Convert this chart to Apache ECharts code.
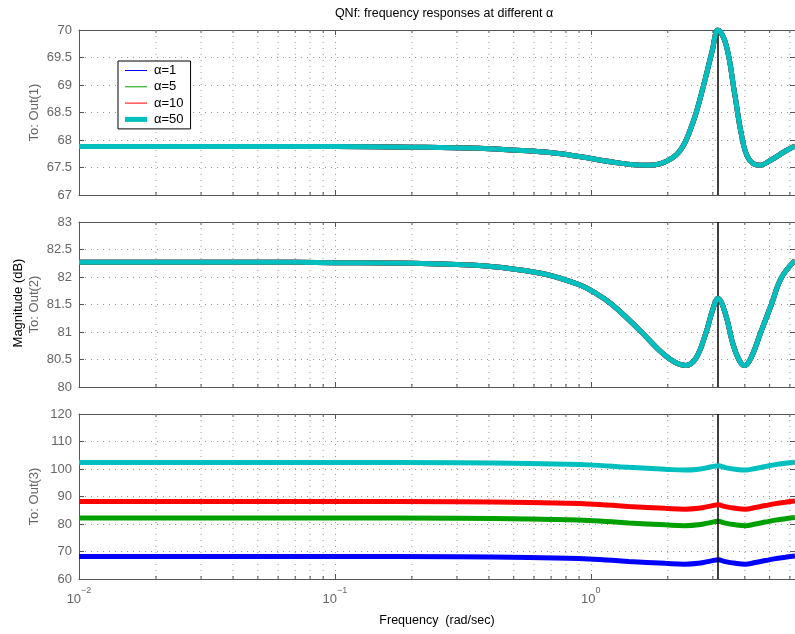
<!DOCTYPE html>
<html><head><meta charset="utf-8">
<script src="https://cdn.jsdelivr.net/npm/echarts@6/dist/echarts.min.js"></script>
<style>html,body{margin:0;padding:0;background:#fff}#c{width:795px;height:634px}</style>
</head><body><div id="c"></div>
<script>
const titleText = 'QNf: frequency responses at different \u03B1';
const yLabelText = 'Magnitude (dB)';
const xLabelText = 'Frequency  (rad/sec)';
const panelNames = ['To: Out(1)', 'To: Out(2)', 'To: Out(3)'];
const alphaNames = ['\u03B1=1', '\u03B1=5', '\u03B1=10', '\u03B1=50'];
const alphaColors = ['#0000ff', '#00a000', '#ff0000', '#00bfbf'];
const markerFreq = 3.1416;
const freqMin = 0.01, freqMax = 6.2832;
const yRanges = [[67, 70, 0.5], [80, 83, 0.5], [60, 120, 10]];
const minorFreqs = [0.02,0.03,0.04,0.05,0.06,0.07,0.08,0.09,0.2,0.3,0.4,0.5,0.6,0.7,0.8,0.9,2,3,4,5,6];

// Out(1): identical for all alpha
const freqOut1 = [0.01, 0.03, 0.1, 0.2, 0.366, 0.49, 0.665, 0.90, 1.21, 1.64, 1.90, 2.22, 2.49, 2.72, 2.98, 3.1416, 3.38, 3.64, 3.88, 4.13, 4.57, 5.08, 5.77, 6.2832];
const magOut1  = [67.88, 67.88, 67.88, 67.87, 67.85, 67.82, 67.78, 67.70, 67.60, 67.54, 67.58, 67.79, 68.28, 68.88, 69.61, 70.0, 69.73, 68.88, 68.10, 67.67, 67.54, 67.64, 67.80, 67.89];
// Out(2): identical for all alpha
const freqOut2 = [0.01, 0.05, 0.1, 0.2, 0.366, 0.49, 0.665, 0.90, 1.04, 1.21, 1.41, 1.64, 1.90, 2.15, 2.35, 2.58, 2.83, 2.98, 3.1416, 3.37, 3.57, 3.79, 3.99, 4.23, 4.63, 5.08, 5.55, 6.2832];
const magOut2  = [82.27, 82.27, 82.26, 82.25, 82.21, 82.15, 82.05, 81.86, 81.71, 81.50, 81.22, 80.92, 80.62, 80.44, 80.39, 80.53, 81.01, 81.37, 81.61, 81.31, 80.83, 80.50, 80.39, 80.53, 81.01, 81.50, 81.98, 82.30];
// Out(3): one curve per alpha
const freqOut3 = [0.01, 0.1, 0.3, 0.573, 0.982, 1.406, 1.955, 2.326, 2.637, 2.963, 3.1416, 3.359, 3.675, 4.021, 4.398, 4.812, 5.263, 5.757, 6.2832];
const magOut3Alpha1  = [68.2, 68.2, 68.1, 67.8, 67.3, 66.4, 65.7, 65.4, 65.7, 66.6, 67.0, 66.3, 65.7, 65.4, 66.0, 66.7, 67.4, 67.9, 68.4];
const magOut3Alpha5  = [82.2, 82.2, 82.1, 81.8, 81.3, 80.4, 79.7, 79.4, 79.7, 80.6, 81.0, 80.3, 79.7, 79.4, 80.0, 80.7, 81.4, 81.9, 82.4];
const magOut3Alpha10 = [88.2, 88.2, 88.1, 87.8, 87.3, 86.4, 85.7, 85.4, 85.7, 86.6, 87.0, 86.3, 85.7, 85.4, 86.0, 86.7, 87.4, 87.9, 88.4];
const magOut3Alpha50 = [102.4, 102.4, 102.3, 102.0, 101.5, 100.6, 99.9, 99.6, 99.9, 100.8, 101.2, 100.5, 99.9, 99.6, 100.2, 100.9, 101.6, 102.1, 102.5];

const FONT = '"Liberation Sans", Arial, Helvetica, sans-serif';
const pairs = (xs, ys) => xs.map((x, i) => [x, ys[i]]);
const panelData = [
  [magOut1, magOut1, magOut1, magOut1].map(m => pairs(freqOut1, m)),
  [magOut2, magOut2, magOut2, magOut2].map(m => pairs(freqOut2, m)),
  [magOut3Alpha1, magOut3Alpha5, magOut3Alpha10, magOut3Alpha50].map(m => pairs(freqOut3, m))
];

const gridTops = [30, 222, 414];
const GRID_H = 165;
const dotted = { color: '#999', width: 1, type: [1, 5] };
const borderColor = '#555';

const grids = [], xAxes = [], yAxes = [], series = [];
gridTops.forEach((top, p) => {
  grids.push({ left: 79, right: -2, top: top, height: GRID_H, containLabel: false });
  const isBottom = p === 2;
  xAxes.push({
    type: 'log', logBase: 10, gridIndex: p, min: freqMin, max: freqMax, position: 'bottom',
    name: isBottom ? xLabelText : '', nameLocation: 'middle', nameGap: 35,
    nameTextStyle: { fontFamily: FONT, fontSize: 12.5, color: '#000' },
    axisLine: { lineStyle: { color: borderColor } },
    axisTick: { inside: true, length: 5, lineStyle: { color: borderColor } },
    splitLine: { show: true, lineStyle: dotted },
    axisLabel: {
      show: isBottom, margin: 7, showMaxLabel: false,
      formatter: v => {
        const e = Math.log10(v); const r = Math.round(e);
        if (Math.abs(e - r) > 1e-6) return '';
        return '{b|10}{s|' + (r < 0 ? '\u2212' + (-r) : r) + '}';
      },
      rich: {
        b: { fontFamily: FONT, fontSize: 13, color: '#666', verticalAlign: 'bottom', lineHeight: 20 },
        s: { fontFamily: FONT, fontSize: 9, color: '#666', verticalAlign: 'top', lineHeight: 20 }
      }
    }
  });
  xAxes.push({
    type: 'log', logBase: 10, gridIndex: p, min: freqMin, max: freqMax, position: 'top',
    axisLine: { lineStyle: { color: borderColor } },
    axisTick: { inside: true, length: 5, lineStyle: { color: borderColor } },
    splitLine: { show: false }, axisLabel: { show: false }
  });
  const [ymin, ymax, yint] = yRanges[p];
  yAxes.push({
    type: 'value', gridIndex: p, min: ymin, max: ymax, interval: yint, position: 'left',
    name: panelNames[p], nameLocation: 'middle', nameGap: 38, nameRotate: 90, nameMoveOverlap: false,
    nameTextStyle: { fontFamily: FONT, fontSize: 13, color: '#666' },
    axisLine: { show: true, lineStyle: { color: borderColor } },
    axisTick: { show: true, inside: true, length: 5, lineStyle: { color: borderColor } },
    splitLine: { show: true, lineStyle: dotted },
    axisLabel: { fontFamily: FONT, fontSize: 13, color: '#666', margin: 7 }
  });
  yAxes.push({
    type: 'value', gridIndex: p, min: ymin, max: ymax, interval: yint, position: 'right',
    axisLine: { show: true, lineStyle: { color: borderColor } },
    axisTick: { show: true, inside: true, length: 5, lineStyle: { color: borderColor } },
    splitLine: { show: false }, axisLabel: { show: false }
  });
  const xi = p * 2, yi = p * 2;
  series.push({
    type: 'custom', xAxisIndex: xi, yAxisIndex: yi, silent: true, z: 1,
    data: minorFreqs.map(f => [f, ymin]),
    renderItem: (params, api) => {
      const f = api.value(0);
      const t = api.coord([f, ymax]), b = api.coord([f, ymin]);
      return { type: 'group', children: [
        { type: 'line', shape: { x1: t[0], y1: t[1], x2: b[0], y2: b[1] }, style: { stroke: '#999', lineWidth: 1, lineDash: [1, 5] } },
        { type: 'line', shape: { x1: t[0], y1: t[1], x2: t[0], y2: t[1] + 3 }, style: { stroke: borderColor, lineWidth: 1 } },
        { type: 'line', shape: { x1: b[0], y1: b[1], x2: b[0], y2: b[1] - 3 }, style: { stroke: borderColor, lineWidth: 1 } }
      ] };
    }
  });
  alphaNames.forEach((name, k) => {
    series.push({
      name: name, type: 'line', xAxisIndex: xi, yAxisIndex: yi, z: 3 + k,
      data: panelData[p][k], smooth: 0.4, symbol: 'none', showSymbol: false,
      lineStyle: { color: alphaColors[k], width: 5 }, itemStyle: { color: alphaColors[k] },
      animation: false
    });
  });
  series.push({
    type: 'line', xAxisIndex: xi, yAxisIndex: yi, data: [], z: 10, silent: true,
    markLine: { silent: true, symbol: 'none', animation: false, label: { show: false },
      lineStyle: { color: '#000', width: 1.5, type: 'solid' },
      data: [{ xAxis: markerFreq }] }
  });
});

const thinIcon = 'path://M0 0H22V1H0Z';
const thickIcon = 'path://M0 0H22V5H0Z';

const chart = echarts.init(document.getElementById('c'), null, { renderer: 'canvas' });
chart.setOption({
  animation: false,
  backgroundColor: '#fff',
  title: { text: titleText, left: 439, top: 2, textAlign: 'center',
    textStyle: { fontFamily: FONT, fontSize: 12.5, fontWeight: 'normal', color: '#000' } },
  graphic: [{ type: 'text', x: 18, y: 303, rotation: Math.PI / 2,
    style: { text: yLabelText, fontFamily: FONT, fontSize: 13, fill: '#000', align: 'center', verticalAlign: 'middle' } }],
  legend: {
    orient: 'vertical', left: 118, top: 61, backgroundColor: '#fff', borderColor: '#000', borderWidth: 1,
    padding: [3, 7, 3, 7], itemWidth: 22, itemHeight: 14, itemGap: 3.3, symbolKeepAspect: true,
    textStyle: { fontFamily: FONT, fontSize: 13, color: '#000', padding: [0, 0, 0, 2] },
    data: alphaNames.map((n, i) => ({ name: n, icon: i === 3 ? thickIcon : thinIcon }))
  },
  grid: grids, xAxis: xAxes, yAxis: yAxes, series: series
});
</script></body></html>
